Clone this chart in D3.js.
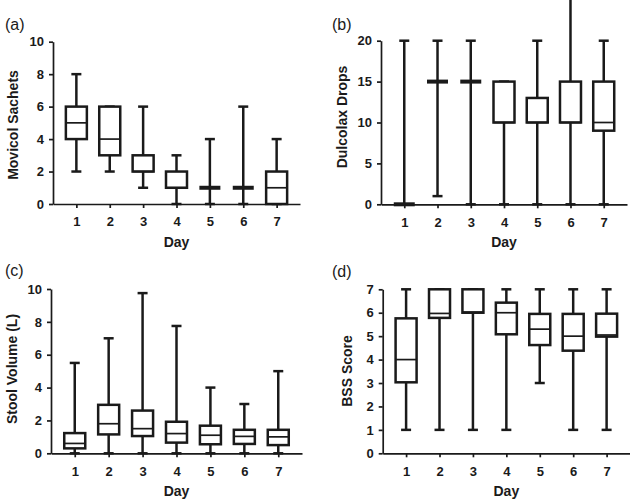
<!DOCTYPE html>
<html>
<head>
<meta charset="utf-8">
<script src="https://cdn.jsdelivr.net/npm/d3@7"></script>
<style>
  body { margin: 0; background: #fff; }
  svg { display: block; font-family: "Liberation Sans", Arial, Helvetica, sans-serif; }
</style>
</head>
<body>
<svg id="chart" width="630" height="499"></svg>
<script>
// ---------- data ----------
const days = [1, 2, 3, 4, 5, 6, 7];

// Panel (a) Movicol Sachets
const movicolMin = [2, 2, 1, 0, 0, 0, 0];
const movicolQ1  = [4, 3, 2, 1, 1, 1, 0];
const movicolMed = [5, 4, 2, 1, 1, 1, 1];
const movicolQ3  = [6, 6, 3, 2, 1, 1, 2];
const movicolMax = [8, 6, 6, 3, 4, 6, 4];
const movicolTicks = [0, 2, 4, 6, 8, 10];

// Panel (b) Dulcolax Drops
const dulcolaxMin = [0, 1, 0, 0, 0, 0, 0];
const dulcolaxQ1  = [0, 15, 15, 10, 10, 10, 9];
const dulcolaxMed = [0, 15, 15, 10, 10, 10, 10];
const dulcolaxQ3  = [0, 15, 15, 15, 13, 15, 15];
const dulcolaxMax = [20, 20, 20, 15, 20, 30, 20];
const dulcolaxTicks = [0, 5, 10, 15, 20];

// Panel (c) Stool Volume (L)
const stoolMin = [0, 0, 0, 0, 0, 0, 0];
const stoolQ1  = [0.3, 1.15, 1.05, 0.65, 0.55, 0.57, 0.5];
const stoolMed = [0.6, 1.8, 1.5, 1.2, 1.1, 1.03, 1.0];
const stoolQ3  = [1.23, 2.95, 2.6, 1.92, 1.68, 1.43, 1.43];
const stoolMax = [5.5, 7, 9.75, 7.75, 4, 3, 5];
const stoolTicks = [0, 2, 4, 6, 8, 10];

// Panel (d) BSS Score
const bssMin = [1, 1, 1, 1, 3, 1, 1];
const bssQ1  = [3.03, 5.78, 6.0, 5.08, 4.62, 4.38, 4.98];
const bssMed = [4.0, 5.97, 6.03, 6.0, 5.3, 5.0, 5.05];
const bssQ3  = [5.76, 7, 7, 6.43, 5.95, 5.95, 5.96];
const bssMax = [7, 7, 7, 7, 7, 7, 7];
const bssTicks = [0, 1, 2, 3, 4, 5, 6, 7];

// ---------- drawing ----------
const svg = d3.select("#chart");
const INK = "#1a1a1a";

function panel(cfg) {
  const g = svg.append("g");
  const x = d3.scaleLinear().domain([0.3, 7.7]).range([cfg.left, cfg.right]);
  const y = d3.scaleLinear().domain([0, cfg.ymax]).range([cfg.bottom, cfg.top]);

  const rows = days.map((d, i) => ({
    day: d, min: cfg.min[i], q1: cfg.q1[i], med: cfg.med[i], q3: cfg.q3[i], max: cfg.max[i]
  }));

  const bw = 21, cw = 10, sw = 2.5;
  const box = g.selectAll("g.box").data(rows).join("g").attr("class", "box");

  // whiskers
  box.append("line")
    .attr("x1", d => x(d.day)).attr("x2", d => x(d.day))
    .attr("y1", d => y(d.max)).attr("y2", d => y(d.q3))
    .attr("stroke", INK).attr("stroke-width", sw);
  box.append("line")
    .attr("x1", d => x(d.day)).attr("x2", d => x(d.day))
    .attr("y1", d => y(d.q1)).attr("y2", d => y(d.min))
    .attr("stroke", INK).attr("stroke-width", sw);
  // caps
  box.append("line")
    .attr("x1", d => x(d.day) - cw / 2).attr("x2", d => x(d.day) + cw / 2)
    .attr("y1", d => y(d.max)).attr("y2", d => y(d.max))
    .attr("stroke", INK).attr("stroke-width", sw);
  box.append("line")
    .attr("x1", d => x(d.day) - cw / 2).attr("x2", d => x(d.day) + cw / 2)
    .attr("y1", d => y(d.min)).attr("y2", d => y(d.min))
    .attr("stroke", INK).attr("stroke-width", sw);
  // boxes
  box.append("rect")
    .attr("x", d => x(d.day) - bw / 2).attr("width", bw)
    .attr("y", d => y(d.q3)).attr("height", d => Math.max(0, y(d.q1) - y(d.q3)))
    .attr("fill", "#fff").attr("stroke", INK).attr("stroke-width", sw);
  // medians
  box.append("line")
    .attr("x1", d => x(d.day) - bw / 2).attr("x2", d => x(d.day) + bw / 2)
    .attr("y1", d => y(d.med)).attr("y2", d => y(d.med))
    .attr("stroke", INK).attr("stroke-width", d => (d.q1 === d.q3 ? 4 : 1.7));

  // axes
  const xa = g.append("g").attr("transform", `translate(0,${cfg.bottom})`)
    .call(d3.axisBottom(x).tickValues(days).tickFormat(d3.format("d"))
      .tickSize(4).tickSizeOuter(0).tickPadding(9));
  const ya = g.append("g").attr("transform", `translate(${cfg.left},0)`)
    .call(d3.axisLeft(y).tickValues(cfg.ticks).tickFormat(d3.format("d"))
      .tickSize(4).tickSizeOuter(0).tickPadding(5));
  [xa, ya].forEach(a => {
    a.select(".domain").attr("stroke", INK).attr("stroke-width", 1.7);
    a.selectAll(".tick line").attr("stroke", INK).attr("stroke-width", 1.7);
    a.selectAll(".tick text").attr("fill", INK).style("font-size", "13px").style("font-weight", "bold");
  });

  // titles
  g.append("text")
    .attr("transform", `translate(${cfg.left - cfg.ytOff},${cfg.ytY}) rotate(-90)`)
    .attr("text-anchor", "middle").attr("dy", "0.35em")
    .style("font-size", "14px").style("font-weight", "bold").attr("fill", INK)
    .text(cfg.ylabel);
  g.append("text")
    .attr("x", (cfg.left + cfg.right) / 2).attr("y", cfg.bottom + 43)
    .attr("text-anchor", "middle")
    .style("font-size", "14px").style("font-weight", "bold").attr("fill", INK)
    .text("Day");
  g.append("text")
    .attr("x", cfg.lx).attr("y", cfg.ly)
    .style("font-size", "16px").attr("fill", INK)
    .text(cfg.tag);
}

panel({ tag: "(a)", lx: 5, ly: 30, ylabel: "Movicol Sachets", ytOff: 40, ytY: 125,
  left: 53, right: 300, top: 41.7, bottom: 204, ymax: 10, ticks: movicolTicks,
  min: movicolMin, q1: movicolQ1, med: movicolMed, q3: movicolQ3, max: movicolMax });
panel({ tag: "(b)", lx: 332, ly: 30, ylabel: "Dulcolax Drops", ytOff: 39, ytY: 117,
  left: 381, right: 627, top: 40.7, bottom: 204.3, ymax: 20, ticks: dulcolaxTicks,
  min: dulcolaxMin, q1: dulcolaxQ1, med: dulcolaxMed, q3: dulcolaxQ3, max: dulcolaxMax });
panel({ tag: "(c)", lx: 5, ly: 276, ylabel: "Stool Volume (L)", ytOff: 39, ytY: 369,
  left: 51, right: 302, top: 289, bottom: 453.3, ymax: 10, ticks: stoolTicks,
  min: stoolMin, q1: stoolQ1, med: stoolMed, q3: stoolQ3, max: stoolMax });
panel({ tag: "(d)", lx: 332, ly: 277, ylabel: "BSS Score", ytOff: 36, ytY: 371,
  left: 382.7, right: 630, top: 289.3, bottom: 453.3, ymax: 7, ticks: bssTicks,
  min: bssMin, q1: bssQ1, med: bssMed, q3: bssQ3, max: bssMax });
</script>
</body>
</html>
